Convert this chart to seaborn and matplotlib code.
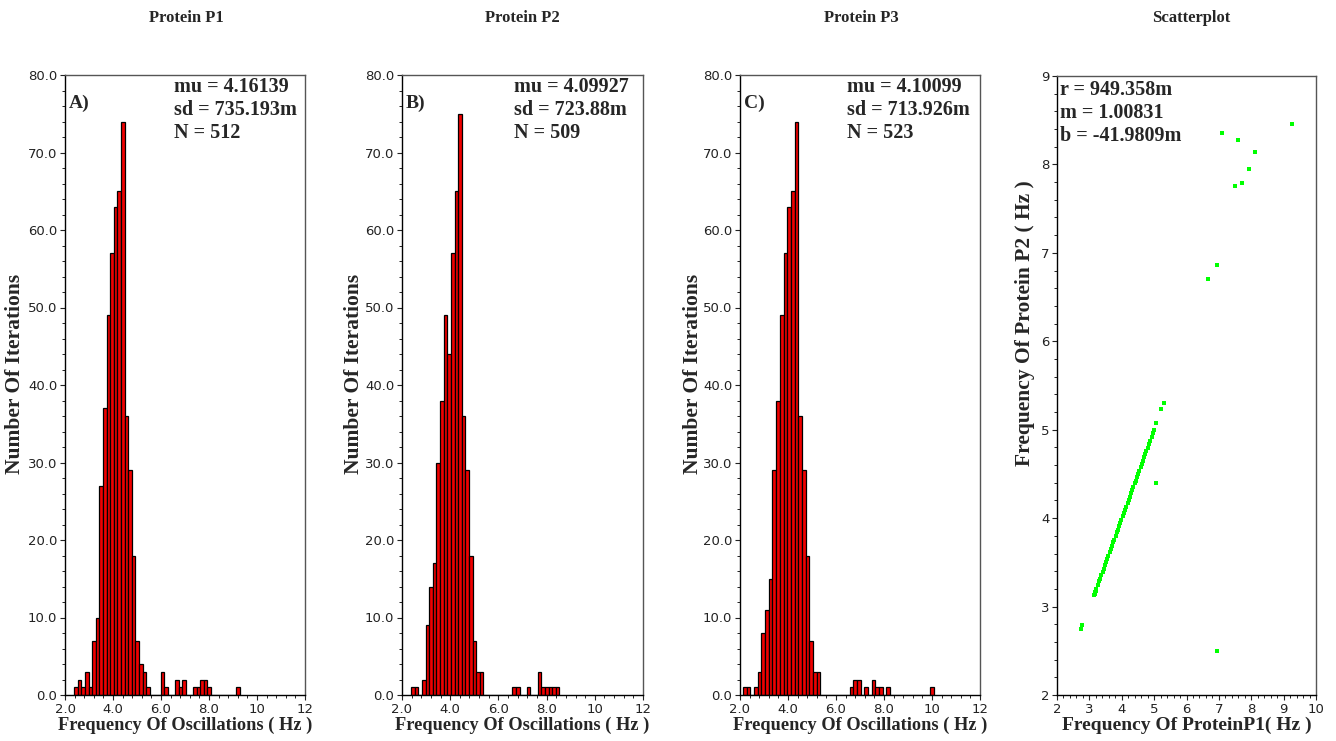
import numpy as np
import pandas as pd
import matplotlib
matplotlib.use("Agg")
import matplotlib.pyplot as plt
import seaborn as sns
from matplotlib.ticker import MultipleLocator

# ---------------- data ----------------
titles = ["Protein P1", "Protein P2", "Protein P3", "Scatterplot"]
panel_tags = ["A)", "B)", "C)"]
stats_text = [
    "mu = 4.16139\nsd = 735.193m\nN = 512",
    "mu = 4.09927\nsd = 723.88m\nN = 509",
    "mu = 4.10099\nsd = 713.926m\nN = 523",
]
fit_text = "r = 949.358m\nm = 1.00831\nb = -41.9809m"

# histogram bins: first edge, bin width and counts per bin (Hz)
p1_start, p1_width = 2.38, 0.15
p1_counts = [1, 2, 1, 3, 1, 7, 10, 27, 37, 49, 57, 63, 65, 74, 36, 29, 18, 7, 4, 3,
             1, 0, 0, 0, 3, 1, 0, 0, 2, 1, 2, 0, 0, 1, 1, 2, 2, 1, 0, 0,
             0, 0, 0, 0, 0, 1]
p2_start, p2_width = 2.38, 0.15
p2_counts = [1, 1, 0, 2, 9, 14, 17, 30, 38, 49, 44, 57, 65, 75, 36, 29, 18, 7, 3, 3,
             0, 0, 0, 0, 0, 0, 0, 0, 1, 1, 0, 0, 1, 0, 0, 3, 1, 1, 1, 1,
             1]
p3_start, p3_width = 2.13, 0.153
p3_counts = [1, 1, 0, 1, 3, 8, 11, 15, 29, 38, 49, 57, 63, 65, 74, 36, 29, 18, 7, 3,
             3, 0, 0, 0, 0, 0, 0, 0, 0, 1, 2, 2, 0, 1, 0, 2, 1, 1, 0, 1,
             0, 0, 0, 0, 0, 0, 0, 0, 0, 0, 0, 1]

hist_xticks = [2, 4, 6, 8, 10, 12]
hist_xticklabels = ["2.0", "4.0", "6.0", "8.0", "10", "12"]
hist_yticks = [0, 10, 20, 30, 40, 50, 60, 70, 80]
hist_yticklabels = ["0.0", "10.0", "20.0", "30.0", "40.0", "50.0", "60.0", "70.0", "80.0"]

# scatter: P1 frequency vs P2 frequency (Hz)
sc_p1 = [3.16, 3.19, 3.22, 3.26, 3.30, 3.33, 3.37, 3.41, 3.44, 3.48, 3.52, 3.55, 3.59,
         3.63, 3.66, 3.70, 3.74, 3.77, 3.81, 3.85, 3.88, 3.92, 3.96, 3.99, 4.03, 4.07,
         4.10, 4.14, 4.18, 4.21, 4.25, 4.29, 4.32, 4.36, 4.40, 4.43, 4.47, 4.51, 4.54,
         4.58, 4.62, 4.65, 4.69, 4.73, 4.76, 4.80, 4.84, 4.88, 4.92, 4.96, 5.00,
         2.73, 2.76, 3.14, 3.18, 5.05, 5.20, 5.29, 5.06, 6.95,
         7.09, 7.60, 8.13, 7.92, 7.72, 7.49, 9.27, 6.95, 6.67]
sc_p2 = [3.143, 3.174, 3.204, 3.244, 3.284, 3.315, 3.355, 3.395, 3.426, 3.466, 3.506,
         3.536, 3.577, 3.617, 3.647, 3.688, 3.728, 3.758, 3.798, 3.839, 3.869, 3.909,
         3.950, 3.980, 4.020, 4.061, 4.091, 4.131, 4.171, 4.202, 4.242, 4.282, 4.313,
         4.353, 4.393, 4.423, 4.464, 4.504, 4.534, 4.575, 4.615, 4.645, 4.686, 4.726,
         4.756, 4.796, 4.837, 4.877, 4.917, 4.958, 4.998,
         2.75, 2.79, 3.13, 3.17, 5.08, 5.23, 5.30, 4.40, 2.50,
         8.35, 8.28, 8.14, 7.95, 7.79, 7.76, 8.46, 6.86, 6.71]

# ---------------- styling ----------------
sns.set_style("ticks")
plt.rcParams["font.family"] = ["DejaVu Sans"]
serif = ["Liberation Serif", "DejaVu Serif"]

W, H = 1336, 741
fig = plt.figure(figsize=(W / 100, H / 100), dpi=100)


def px_axes(left, right, top, bottom):
    return fig.add_axes([left / W, 1 - bottom / H, (right - left) / W, (bottom - top) / H])


def style_spines(ax):
    for side in ["left", "bottom"]:
        ax.spines[side].set_color("black")
        ax.spines[side].set_linewidth(1.0)
    for side in ["right", "top"]:
        ax.spines[side].set_visible(True)
        ax.spines[side].set_color("#555555")
        ax.spines[side].set_linewidth(1.0)
    ax.tick_params(which="major", direction="out", length=3.5, width=0.8, labelsize=9.5,
                   colors="#222222", pad=2)
    ax.tick_params(which="minor", direction="out", length=2, width=0.7, colors="#222222")


hist_boxes = [(65, 305), (402, 643), (740, 980)]
hist_data = [(p1_start, p1_width, p1_counts), (p2_start, p2_width, p2_counts),
             (p3_start, p3_width, p3_counts)]
stat_x = [0.455, 0.465, 0.445]
ylabel_x = [-0.165, -0.158, -0.155]

for i, ((l, r), (start, width, counts)) in enumerate(zip(hist_boxes, hist_data)):
    ax = px_axes(l, r, 75, 695)
    counts = np.asarray(counts, dtype=float)
    nb = len(counts)
    centers = start + width * (np.arange(nb) + 0.5)
    df = pd.DataFrame({"freq": centers, "n": counts})
    df = df[df["n"] > 0]
    sns.histplot(data=df, x="freq", weights="n", binwidth=width,
                 binrange=(start, start + width * nb), color="#f00000",
                 edgecolor="black", linewidth=0.9, alpha=1.0, ax=ax)
    ax.set_xlim(2, 12)
    ax.set_ylim(0, 80)
    ax.set_xticks(hist_xticks)
    ax.set_xticklabels(hist_xticklabels)
    ax.set_yticks(hist_yticks)
    ax.set_yticklabels(hist_yticklabels)
    ax.xaxis.set_minor_locator(MultipleLocator(0.4))
    ax.yaxis.set_minor_locator(MultipleLocator(2))
    style_spines(ax)
    ax.set_xlabel("Frequency Of Oscillations ( Hz )", family=serif, fontweight="bold",
                  fontsize=13.2, va="top")
    ax.xaxis.set_label_coords(0.5, -0.035)
    ax.set_ylabel("Number Of Iterations", family=serif, fontweight="bold", fontsize=15.5)
    ax.yaxis.set_label_coords(ylabel_x[i], 0.518)
    ax.text(0.015, 0.955, panel_tags[i], transform=ax.transAxes, family=serif,
            fontweight="bold", fontsize=14, va="center", ha="left")
    ax.text(stat_x[i], 0.997, stats_text[i], transform=ax.transAxes, family=serif,
            fontweight="bold", fontsize=14.5, va="top", ha="left", linespacing=1.2)

# scatter panel
axs = px_axes(1057, 1316, 76, 695)
sns.scatterplot(x=sc_p1, y=sc_p2, color="#00ff00", marker="s", s=5, linewidth=0,
                ax=axs)
axs.set_xlim(2, 10)
axs.set_ylim(2, 9)
axs.set_xticks(range(2, 11))
axs.set_yticks(range(2, 10))
axs.xaxis.set_minor_locator(MultipleLocator(0.2))
axs.yaxis.set_minor_locator(MultipleLocator(0.2))
style_spines(axs)
axs.set_xlabel("Frequency Of ProteinP1( Hz )", family=serif, fontweight="bold",
               fontsize=14, va="top")
axs.xaxis.set_label_coords(0.5, -0.035)
axs.set_ylabel("Frequency Of Protein P2 ( Hz )", family=serif, fontweight="bold",
               fontsize=15.5)
axs.yaxis.set_label_coords(-0.085, 0.6)
axs.text(0.012, 0.993, fit_text, transform=axs.transAxes, family=serif,
         fontweight="bold", fontsize=14.5, va="top", ha="left", linespacing=1.2)

title_x = [186, 522, 861, 1191]
for t, x in zip(titles, title_x):
    fig.text(x / W, 1 - 18 / H, t, family=serif, fontweight="bold", fontsize=12,
             ha="center", va="center")

fig.savefig("out.png", dpi=100, facecolor="white")
